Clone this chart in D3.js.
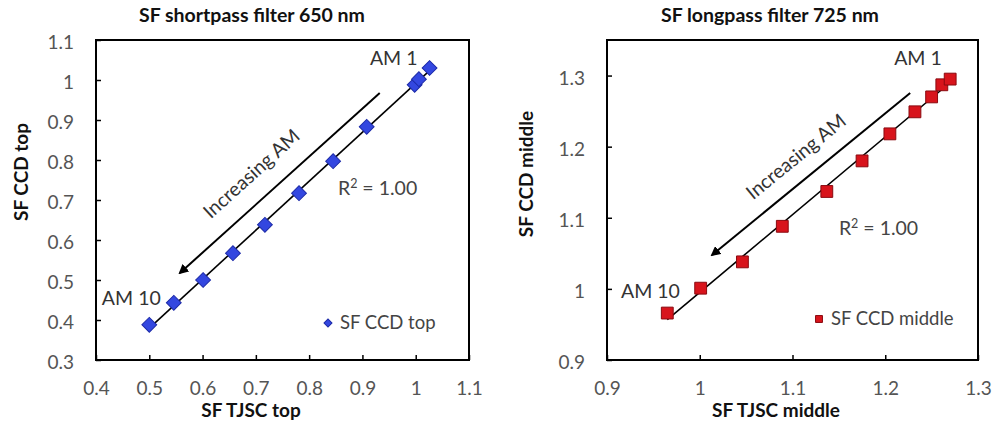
<!DOCTYPE html>
<html><head><meta charset="utf-8">
<script src="https://cdn.jsdelivr.net/npm/d3@7"></script>
<style>
html,body{margin:0;padding:0;background:#fff;}
svg{display:block;}
text{font-family:Lato,"Open Sans",sans-serif;}
</style></head>
<body><svg id="chart" width="994" height="425"></svg>
<script>
// ---- Data ----
const leftTitle = "SF shortpass filter 650 nm";
const leftXLabel = "SF TJSC top";
const leftYLabel = "SF CCD top";
const leftSeriesName = "SF CCD top";
const leftX = [0.500, 0.546, 0.601, 0.657, 0.717, 0.781, 0.845, 0.908, 0.998, 1.006, 1.026];
const leftY = [0.388, 0.443, 0.500, 0.567, 0.638, 0.717, 0.797, 0.883, 0.988, 1.002, 1.030];
const leftXTicks = [0.4, 0.5, 0.6, 0.7, 0.8, 0.9, 1, 1.1];
const leftYTicks = [0.3, 0.4, 0.5, 0.6, 0.7, 0.8, 0.9, 1, 1.1];

const rightTitle = "SF longpass filter 725 nm";
const rightXLabel = "SF TJSC middle";
const rightYLabel = "SF CCD middle";
const rightSeriesName = "SF CCD middle";
const rightX = [0.965, 1.001, 1.046, 1.089, 1.137, 1.175, 1.205, 1.232, 1.250, 1.261, 1.270];
const rightY = [0.966, 1.001, 1.038, 1.088, 1.137, 1.180, 1.218, 1.249, 1.270, 1.287, 1.295];
const rightXTicks = [0.9, 1, 1.1, 1.2, 1.3];
const rightYTicks = [0.9, 1, 1.1, 1.2, 1.3];

// annotation anchors in data units
const leftAnno = {am1:[0.914,1.0375], am10:[0.411,0.4375], r2:[0.854,0.7125],
  arrowFrom:[0.9325,0.9675], arrowTo:[0.5575,0.5175], label:[0.694,0.7625]};
const rightAnno = {am1:[1.2096,1.3149], am10:[0.9151,0.9872], r2:[1.150,1.0758],
  arrowFrom:[1.2269,1.2755], arrowTo:[1.0133,1.0477], label:[1.105,1.184]};

const svg = d3.select("#chart");
const defs = svg.append("defs");
defs.append("marker").attr("id","ah").attr("viewBox","0 0 10 10")
  .attr("refX",8).attr("refY",5).attr("markerWidth",5).attr("markerHeight",5)
  .attr("orient","auto-start-reverse").attr("markerUnits","strokeWidth")
  .append("path").attr("d","M0,0 L10,5 L0,10 z").attr("fill","#000");

function fmt(v){ return d3.format("")(+v.toFixed(2)); }

function panel(cfg){
  const {xs, ys, xDom, yDom, xRange, yRange, xTicks, yTicks, title, xLabel, yLabel,
         seriesName, anno, markerType, fill, stroke, markerSize, legendPos,
         yLabelX, yLabelY, xLabelX, titleX} = cfg;
  const x = d3.scaleLinear().domain(xDom).range(xRange);
  const y = d3.scaleLinear().domain(yDom).range(yRange);
  const g = svg.append("g");
  const [x0,x1] = xRange, [y0,y1] = [yRange[1], yRange[0]];
  const fs = 19.5;

  // ticks (inside)
  const xa = g.append("g").attr("transform",`translate(0,${yRange[0]})`)
    .call(d3.axisBottom(x).tickValues(xTicks).tickSize(-5).tickPadding(28).tickFormat(fmt));
  xa.select(".domain").remove();
  xa.selectAll("text").attr("font-size",19).attr("fill","#555").attr("dy","0.35em");
  xa.selectAll("line").attr("stroke","#000").attr("stroke-width",1.5);
  const ya = g.append("g").attr("transform",`translate(${xRange[0]},0)`)
    .call(d3.axisLeft(y).tickValues(yTicks).tickSize(-5).tickPadding(22).tickFormat(fmt));
  ya.select(".domain").remove();
  ya.selectAll("text").attr("font-size",19).attr("fill","#555").attr("dy","0.45em");
  ya.selectAll("line").attr("stroke","#000").attr("stroke-width",1.5);

  // frame
  g.append("rect").attr("x",x0).attr("y",y0).attr("width",x1-x0).attr("height",y1-y0)
    .attr("fill","none").attr("stroke","#000").attr("stroke-width",2);

  // trend line (least squares)
  const mx = d3.mean(xs), my = d3.mean(ys);
  const b = d3.sum(xs.map((v,i)=>(v-mx)*(ys[i]-my))) / d3.sum(xs.map(v=>(v-mx)*(v-mx)));
  const a = my - b*mx;
  const ex = d3.extent(xs);
  g.append("line").attr("x1",x(ex[0])).attr("y1",y(a+b*ex[0]))
    .attr("x2",x(ex[1])).attr("y2",y(a+b*ex[1])).attr("stroke","#000").attr("stroke-width",1.6);

  // markers
  const rot = markerType==="diamond" ? 45 : 0;
  g.selectAll("path.pt").data(xs.map((v,i)=>[v,ys[i]])).join("path").attr("class","pt")
    .attr("d", d3.symbol().type(d3.symbolSquare).size(markerSize))
    .attr("transform", d=>`translate(${x(d[0])},${y(d[1])}) rotate(${rot})`)
    .attr("fill",fill).attr("stroke",stroke).attr("stroke-width",1);

  // arrow
  g.append("line").attr("x1",x(anno.arrowFrom[0])).attr("y1",y(anno.arrowFrom[1]))
    .attr("x2",x(anno.arrowTo[0])).attr("y2",y(anno.arrowTo[1]))
    .attr("stroke","#000").attr("stroke-width",2).attr("marker-end","url(#ah)");
  const ang = Math.atan2(y(anno.arrowTo[1])-y(anno.arrowFrom[1]), x(anno.arrowTo[0])-x(anno.arrowFrom[0]))*180/Math.PI + 180;
  g.append("text").attr("transform",`translate(${x(anno.label[0])},${y(anno.label[1])}) rotate(${ang})`)
    .attr("text-anchor","middle").attr("dominant-baseline","middle")
    .attr("font-size",fs).attr("fill","#333").text("Increasing AM");

  // text annotations
  g.append("text").attr("x",x(anno.am1[0])).attr("y",y(anno.am1[1])).attr("font-size",fs).attr("fill","#333").text("AM 1");
  g.append("text").attr("x",x(anno.am10[0])).attr("y",y(anno.am10[1])).attr("font-size",fs).attr("fill","#333").text("AM 10");
  const r2 = g.append("text").attr("x",x(anno.r2[0])).attr("y",y(anno.r2[1])).attr("font-size",fs).attr("fill","#444");
  r2.append("tspan").text("R");
  r2.append("tspan").attr("dy",-7).attr("font-size",12.5).text("2");
  r2.append("tspan").attr("dy",7).text(" = 1.00");

  // legend
  const lg = g.append("g").attr("transform",`translate(${x0+legendPos[0]},${y0+legendPos[1]})`);
  lg.append("path").attr("d", d3.symbol().type(d3.symbolSquare).size(markerType==="diamond"?32:48))
    .attr("transform",`rotate(${rot})`).attr("fill",fill).attr("stroke",stroke);
  lg.append("text").attr("x",12).attr("y",0).attr("dy","0.35em").attr("font-size",18.5).attr("fill","#444").text(seriesName);

  // titles
  g.append("text").attr("x",titleX).attr("y",22).attr("text-anchor","middle")
    .attr("font-size",19.5).attr("font-weight","bold").attr("fill","#111").text(title);
  g.append("text").attr("x",xLabelX).attr("y",417).attr("text-anchor","middle")
    .attr("font-size",19).attr("font-weight","bold").attr("fill","#111").text(xLabel);
  g.append("text").attr("transform",`translate(${yLabelX},${yLabelY}) rotate(-90)`).attr("text-anchor","middle")
    .attr("font-size",19).attr("font-weight","bold").attr("fill","#111").text(yLabel);
}

panel({xs:leftX, ys:leftY, xDom:[0.4,1.1], yDom:[0.3,1.1], xRange:[96,469], yRange:[360,40],
  xTicks:leftXTicks, yTicks:leftYTicks, title:leftTitle, xLabel:leftXLabel, yLabel:leftYLabel,
  seriesName:leftSeriesName, anno:leftAnno, markerType:"diamond", fill:"#3347e0", stroke:"#1c2aa8",
  markerSize:110, legendPos:[232,283], yLabelX:28, yLabelY:172, xLabelX:251, titleX:252});
panel({xs:rightX, ys:rightY, xDom:[0.9,1.3], yDom:[0.9,1.35], xRange:[607,978], yRange:[360,40],
  xTicks:rightXTicks, yTicks:rightYTicks, title:rightTitle, xLabel:rightXLabel, yLabel:rightYLabel,
  seriesName:rightSeriesName, anno:rightAnno, markerType:"square", fill:"#d8141c", stroke:"#8a0a10",
  markerSize:140, legendPos:[212,279], yLabelX:533, yLabelY:174, xLabelX:776, titleX:770});
</script></body></html>
